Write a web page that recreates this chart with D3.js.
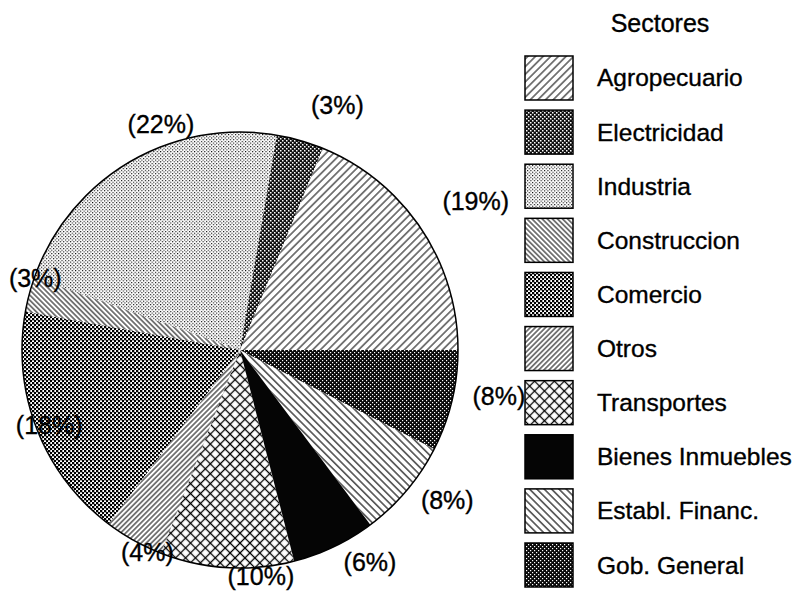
<!DOCTYPE html>
<html>
<head>
<meta charset="utf-8">
<script src="https://cdn.jsdelivr.net/npm/d3@7/dist/d3.min.js"></script>
<style>
  body { margin: 0; background: #fff; }
  svg text { font-family: "Liberation Sans", Arial, Helvetica, sans-serif; fill: #000; stroke: #000; stroke-width: 0.35; }
</style>
</head>
<body>
<div id="chart"></div>
<script>
// sectors, counter-clockwise from 3 o'clock
var sectors = ["Agropecuario", "Electricidad", "Industria", "Construccion", "Comercio",
               "Otros", "Transportes", "Bienes Inmuebles", "Establ. Financ.", "Gob. General"];
var shares = [18.8, 3.5, 22.3, 2.6, 17.5, 4.4, 9.9, 6.2, 7.3, 7.5];
var pctLabels = ["(19%)", "(3%)", "(22%)", "(3%)", "(18%)", "(4%)", "(10%)", "(6%)", "(8%)", "(8%)"];
var patternIds = ["p-agro", "p-elec", "p-ind", "p-cons", "p-com", "p-otros", "p-trans", "p-bienes", "p-estab", "p-gob"];

var width = 811, height = 593;
var cx = 240, cy = 350, radius = 218;

// label placement: [angle nudge in degrees (ccw), distance from centre]
var labelPlace = [[-1.5, 279], [-5.7, 263], [-11.1, 239], [-4.6, 217], [0, 205],
                  [4.5, 222], [8.7, 227], [5.9, 249], [4.2, 256], [3.4, 263]];

var svg = d3.select("#chart").append("svg")
  .attr("width", width)
  .attr("height", height);

var defs = svg.append("defs");

function linePattern(id, size, angle, sw){
  var p = defs.append("pattern").attr("id", id)
    .attr("patternUnits", "userSpaceOnUse")
    .attr("width", size).attr("height", size)
    .attr("patternTransform", "rotate(" + angle + ")");
  p.append("line").attr("x1", size/2).attr("y1", 0).attr("x2", size/2).attr("y2", size)
    .attr("stroke", "#000").attr("stroke-width", sw);
  return p;
}

function dotPattern(id, size, dot, bg){
  var p = defs.append("pattern").attr("id", id)
    .attr("patternUnits", "userSpaceOnUse")
    .attr("width", size).attr("height", size);
  if(bg) p.append("rect").attr("width", size).attr("height", size).attr("fill", bg);
  var c = bg ? "#fff" : "#000";
  p.append("rect").attr("x", 0).attr("y", 0).attr("width", dot).attr("height", dot).attr("fill", c);
  p.append("rect").attr("x", size/2).attr("y", size/2).attr("width", dot).attr("height", dot).attr("fill", c);
  return p;
}

linePattern("p-agro", 5.4, 45, 1);
dotPattern("p-elec", 4, 1.5, "#111");
dotPattern("p-ind", 3.4, 1.1, null);
linePattern("p-cons", 3.6, -45, 1);
dotPattern("p-com", 4, 2.3, null);
linePattern("p-otros", 3.6, 45, 1);
var tr = linePattern("p-trans", 7, 45, 1.3);
tr.append("line").attr("x1", 0).attr("y1", 3.5).attr("x2", 7).attr("y2", 3.5)
  .attr("stroke", "#000").attr("stroke-width", 1.3);
defs.append("pattern").attr("id", "p-bienes")
  .attr("patternUnits", "userSpaceOnUse").attr("width", 9).attr("height", 9)
  .append("rect").attr("width", 9).attr("height", 9).attr("fill", "#050505");
linePattern("p-estab", 5.2, -45, 1.1);
dotPattern("p-gob", 4, 1.2, "#0a0a0a");

var pie = d3.pie()
  .sort(null)
  .startAngle(Math.PI / 2)
  .endAngle(Math.PI / 2 - 2 * Math.PI)
  .value(function(d){ return d; });

var arcs = pie(shares);
var arc = d3.arc().innerRadius(0).outerRadius(radius);

var g = svg.append("g").attr("transform", "translate(" + cx + "," + cy + ")");

// white base so the labels can sit under the hatching
g.selectAll("path.base")
  .data(arcs)
  .enter().append("path")
  .attr("class", "base")
  .attr("d", arc)
  .attr("fill", "#fff");

g.selectAll("text.pct")
  .data(arcs)
  .enter().append("text")
  .attr("class", "pct")
  .attr("text-anchor", "middle")
  .attr("dy", "0.35em")
  .attr("font-size", 25)
  .attr("transform", function(d, i){
    var a = (d.startAngle + d.endAngle) / 2 - labelPlace[i][0] * Math.PI / 180;
    var r = labelPlace[i][1];
    return "translate(" + (r * Math.sin(a)) + "," + (-r * Math.cos(a)) + ")";
  })
  .text(function(d, i){ return pctLabels[i]; });

g.selectAll("path.slice")
  .data(arcs)
  .enter().append("path")
  .attr("class", "slice")
  .attr("d", arc)
  .attr("fill", function(d, i){ return "url(#" + patternIds[i] + ")"; });

g.append("circle")
  .attr("r", radius)
  .attr("fill", "none")
  .attr("stroke", "#000")
  .attr("stroke-width", 1.5);

// legend
var y = d3.scaleBand()
  .domain(sectors)
  .range([56, 587])
  .paddingInner(0.187)
  .paddingOuter(0);

var legend = svg.append("g");

legend.append("text")
  .attr("x", 660)
  .attr("y", 32)
  .attr("text-anchor", "middle")
  .attr("font-size", 25)
  .text("Sectores");

var items = legend.selectAll("g.item")
  .data(sectors)
  .enter().append("g")
  .attr("class", "item");

items.append("rect")
  .attr("x", 525)
  .attr("y", function(d){ return y(d); })
  .attr("width", 48)
  .attr("height", y.bandwidth())
  .attr("fill", function(d, i){ return "url(#" + patternIds[i] + ")"; })
  .attr("stroke", "#000")
  .attr("stroke-width", 1.5);

items.append("text")
  .attr("x", 597)
  .attr("y", function(d){ return y(d) + y.bandwidth() / 2 + 8.5; })
  .attr("font-size", 24.5)
  .text(function(d){ return d; });
</script>
</body>
</html>
